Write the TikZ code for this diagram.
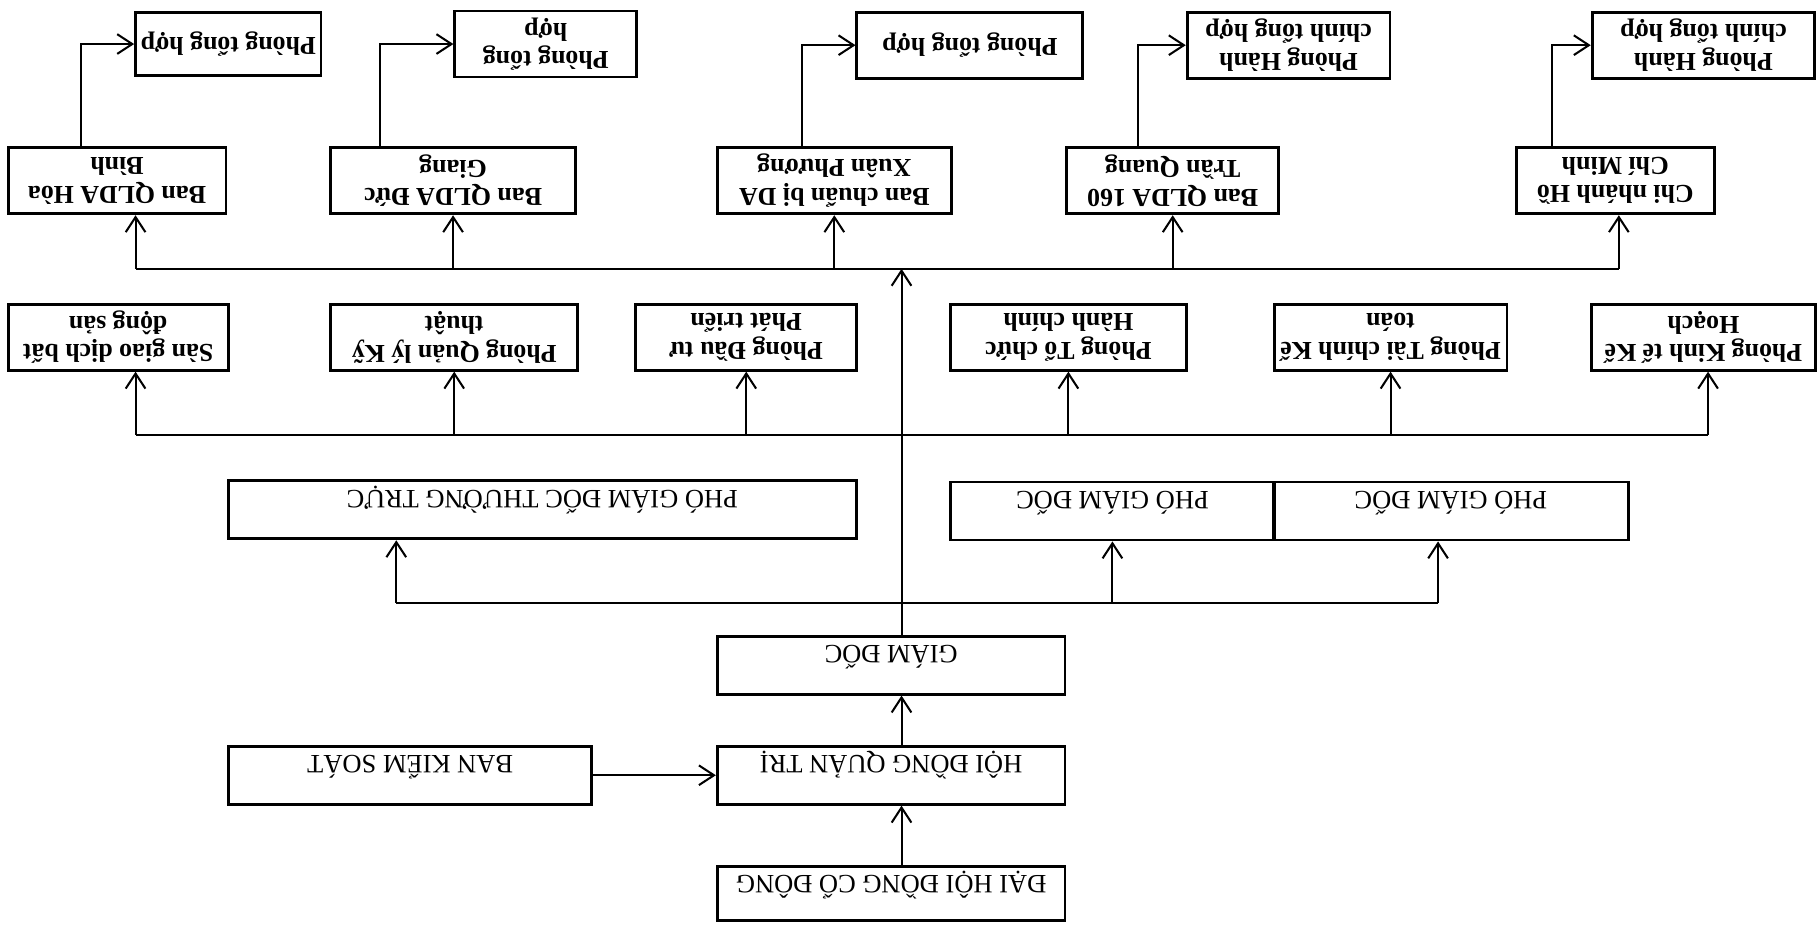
\documentclass[tikz,border=0pt]{standalone}
\usepackage{fontspec}
\setmainfont{Liberation Serif}
\usetikzlibrary{arrows.meta,calc}
\tikzstyle{box} = [rectangle, draw, line width=1.4pt, inner sep=0pt]
\tikzstyle{dept} = [box, align=center, minimum height=11.4mm,
    font=\fontsize{12.7}{14}\selectfont\bfseries]
\tikzstyle{lead} = [box, text height=8.4mm, text depth=1.6mm,
    font=\fontsize{13}{14}\selectfont]

\begin{document}
\begin{tikzpicture}[x=0.2mm,y=0.2mm,rotate=180,transform shape,
                    ->,>={Straight Barb[length=2.6mm,width=3.4mm]},line width=1pt]
  \useasboundingbox (0,0) rectangle (1568,803);

  % board and director
  \node[lead,minimum width=60mm,text height=7.8mm] (dhdcd) at (799,771) {ĐẠI HỘI ĐỒNG CỔ ĐÔNG};
  \node[lead,minimum width=60mm]   (hdqt)  at (799,669)  {HỘI ĐỒNG QUẢN TRỊ};
  \node[lead,minimum width=62.6mm] (bks)   at (1214,669) {BAN KIỂM SOÁT};
  \node[lead,minimum width=60mm]   (gd)    at (799,574)  {GIÁM ĐỐC};
  \node[lead,minimum width=108.4mm] (pgdtt) at (1100,440) {PHÓ GIÁM ĐỐC THƯỜNG TRỰC};
  \node[lead,minimum width=55.8mm] (pgd1)  at (608,441)  {PHÓ GIÁM ĐỐC};
  \node[lead,minimum width=61.2mm] (pgd2)  at (316,441)  {PHÓ GIÁM ĐỐC};

  % departments
  \node[dept,minimum width=38mm]   (san)  at (1466,291) {Sàn giao dịch bất\\động sản};
  \node[dept,minimum width=42.6mm] (qlkt) at (1176,291) {Phòng Quản lý Kỹ\\thuật};
  \node[dept,minimum width=38.2mm] (dttt) at (924,291)  {Phòng Đầu tư\\Phát triển};
  \node[dept,minimum width=40.8mm] (tchc) at (646,291)  {Phòng Tổ chức\\Hành chính};
  \node[dept,minimum width=40.2mm] (tckt) at (368,291)  {Phòng Tài chính Kế\\toán};
  \node[dept,minimum width=38.6mm] (ktkh) at (98,291)   {Phòng Kinh tế Kế\\Hoạch};

  % project boards
  \node[dept,minimum width=37.6mm] (hb)  at (1467,156) {Ban QLDA Hòa\\Bình};
  \node[dept,minimum width=42.4mm] (dg)  at (1177,156) {Ban QLDA Đức\\Giang};
  \node[dept,minimum width=40.4mm] (xp)  at (848,156)  {Ban chuẩn bị DA\\Xuân Phương};
  \node[dept,minimum width=36.6mm] (tq)  at (556,156)  {Ban QLDA 160\\Trần Quang};
  \node[dept,minimum width=34.2mm] (hcm) at (174,156)  {Chi nhánh Hồ\\Chí Minh};

  \node[dept,minimum width=32mm,minimum height=11mm] (th1) at (1371,38) {Phòng tổng hợp};
  \node[dept,minimum width=31.4mm] (th2) at (1097,38) {Phòng tổng\\hợp};
  \node[dept,minimum width=39mm]   (th3) at (731,39)  {Phòng tổng hợp};
  \node[dept,minimum width=35mm]   (hc1) at (456,39)  {Phòng Hành\\chính tổng hợp};
  \node[dept,minimum width=38.4mm] (hc2) at (98,39)   {Phòng Hành\\chính tổng hợp};

  \coordinate (spine) at (790,0);
  \coordinate (pl) at (1226,520);
  \coordinate (pr) at (327,520);
  \coordinate (b2l) at (1451,375);
  \coordinate (b2r) at (94,375);
  \coordinate (b3l) at (1451,232);
  \coordinate (b3r) at (171,232);
  \coordinate (b3) at (790,232);

  \draw (dhdcd.south -| spine) -- (hdqt.north -| spine);
  \draw (bks.west) -- (hdqt.east);
  \draw (hdqt.south -| spine) -- (gd.north -| spine);
  \draw (gd.south -| spine) -- (b3);

  % deputies
  \draw[-] (pl) -- (pr);
  \draw (pl) -- (pl |- pgdtt.north);
  \draw (pgd1.north |- pl) -- (pgd1.north);
  \draw (pr) -- (pr |- pgd2.north);

  % departments
  \draw[-] (b2l) -- (b2r);
  \draw (b2l) -- (b2l |- san.north);
  \draw (qlkt.north |- b2l) -- (qlkt.north);
  \draw (dttt.north |- b2l) -- (dttt.north);
  \draw (tchc.north |- b2l) -- (tchc.north);
  \draw (tckt.north |- b2l) -- (tckt.north);
  \draw (b2r) -- (b2r |- ktkh.north);

  % project boards
  \draw[-] (b3l) -- (b3r);
  \draw (b3l) -- (b3l |- hb.north);
  \draw (dg.north |- b3l) -- (dg.north);
  \draw (xp.north |- b3l) -- (xp.north);
  \draw (tq.north |- b3l) -- (tq.north);
  \draw (b3r) -- (b3r |- hcm.north);

  \draw ($(hb.south)+(31,0)$) |- (th1.east);
  \draw ($(dg.south)+(63,0)$) |- (th2.east);
  \draw ($(xp.south)+(28,0)$) |- (th3.east);
  \draw ($(tq.south)+(30,0)$) |- (hc1.east);
  \draw ($(hcm.south)+(55,0)$) |- (hc2.east);
\end{tikzpicture}
\end{document}
